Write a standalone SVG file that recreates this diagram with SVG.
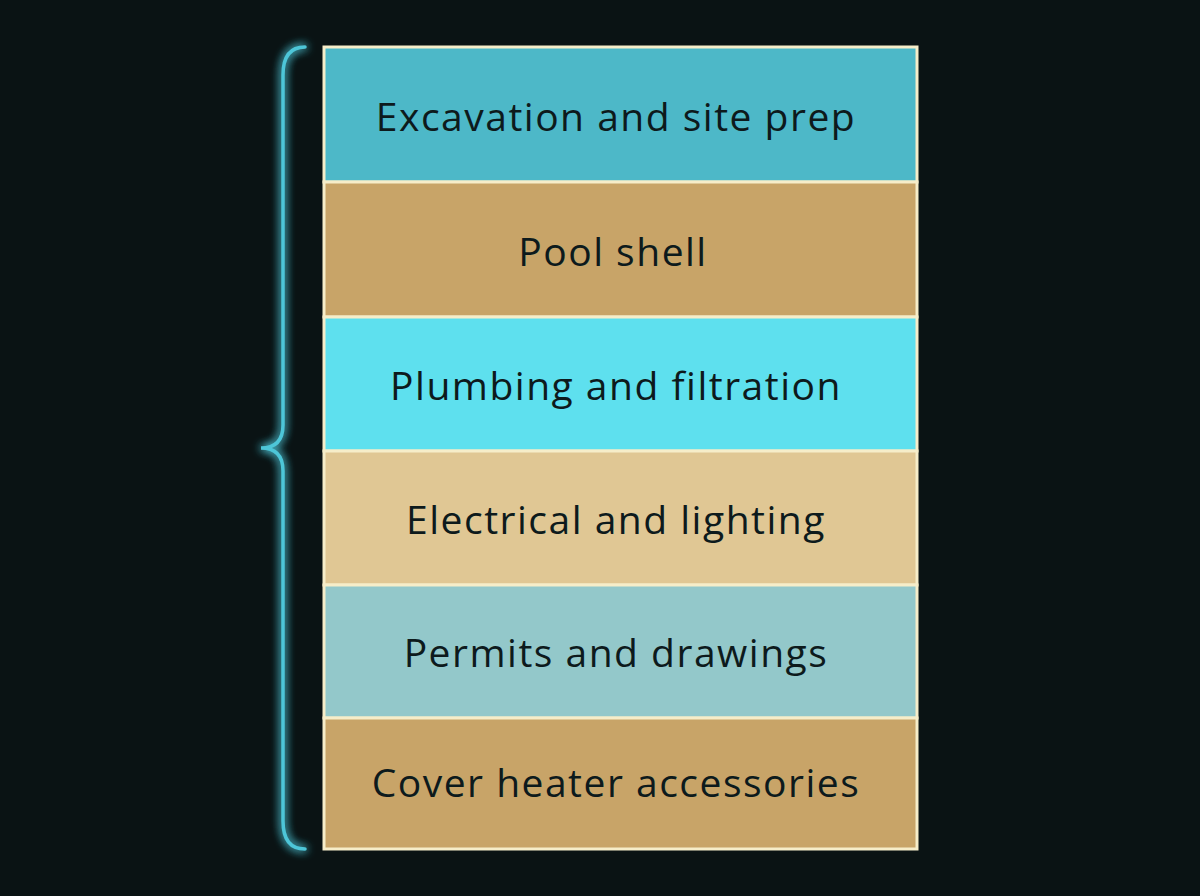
<svg xmlns="http://www.w3.org/2000/svg" width="1200" height="896" viewBox="0 0 1200 896">
<defs>
<filter id="glow" x="-50%" y="-10%" width="200%" height="120%">
<feGaussianBlur stdDeviation="5" result="b"/>
<feMerge><feMergeNode in="b"/><feMergeNode in="b"/><feMergeNode in="SourceGraphic"/></feMerge>
</filter>
<style>
.row{stroke:#f6edc9;stroke-width:3}
.lbl{font-family:"Open Sans","Noto Sans",sans-serif;font-size:39px;letter-spacing:1.5px;fill:#0d1a1c;text-anchor:middle;dominant-baseline:central}
</style>
</defs>
<rect width="1200" height="896" fill="#0a1314"/>
<g id="connectors">
<path d="M305,47 Q283,47 283,75 L283,425 Q283,448 261,448 Q283,448 283,471 L283,821 Q283,849 305,849" fill="none" stroke="#4ec6d8" stroke-width="3.5" stroke-linecap="round" filter="url(#glow)"/>
</g>
<g id="row1"><rect class="row" x="324" y="47" width="593" height="135" fill="#4db8c8"/><text class="lbl" x="616" y="115">Excavation and site prep</text></g>
<g id="row2"><rect class="row" x="324" y="182" width="593" height="135" fill="#c8a468"/><text class="lbl" x="613" y="250">Pool shell</text></g>
<g id="row3"><rect class="row" x="324" y="317" width="593" height="134" fill="#5ee0ee"/><text class="lbl" x="616" y="384">Plumbing and filtration</text></g>
<g id="row4"><rect class="row" x="324" y="451" width="593" height="134" fill="#e0c794"/><text class="lbl" x="616" y="518">Electrical and lighting</text></g>
<g id="row5"><rect class="row" x="324" y="585" width="593" height="133" fill="#93c8ca"/><text class="lbl" x="616" y="651">Permits and drawings</text></g>
<g id="row6"><rect class="row" x="324" y="718" width="593" height="131" fill="#c8a468"/><text class="lbl" x="616" y="781">Cover heater accessories</text></g>
</svg>
